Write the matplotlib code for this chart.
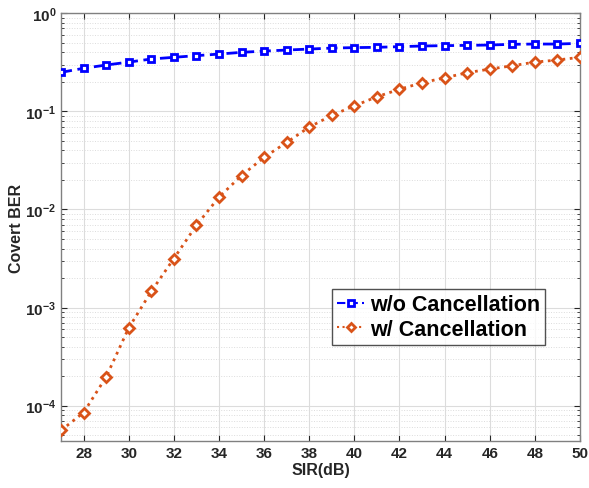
import numpy as np
import matplotlib
matplotlib.use('Agg')
import matplotlib.pyplot as plt
from matplotlib.ticker import LogLocator, NullFormatter

plt.rcParams['font.family'] = ['Liberation Sans', 'DejaVu Sans']
plt.rcParams['font.weight'] = 'bold'

sir = np.arange(27, 51)
ber_wo = [0.250, 0.275, 0.297, 0.318, 0.342, 0.356, 0.370, 0.384, 0.400, 0.412,
          0.422, 0.432, 0.442, 0.447, 0.450, 0.457, 0.464, 0.468, 0.471, 0.475,
          0.483, 0.486, 0.486, 0.494]
ber_w = [5.6e-5, 8.5e-5, 1.96e-4, 6.2e-4, 1.46e-3, 3.16e-3, 6.9e-3, 0.01335,
         0.0222, 0.034, 0.0483, 0.0692, 0.091, 0.114, 0.141, 0.168, 0.196,
         0.220, 0.248, 0.270, 0.292, 0.318, 0.334, 0.356]
xticks = list(range(28, 51, 2))

fig = plt.figure(figsize=(5.89, 4.89), dpi=100)
ax = fig.add_axes([61/589, 1-441.7/489, (580-61)/589, (441.7-14.3)/489])

blue = '#0000FF'
orange = '#D95319'
ax.semilogy(sir, ber_wo, linestyle=(0, (4, 2)), color=blue, lw=2, marker='s', ms=5,
            mfc='white', mec=blue, mew=2, label='w/o Cancellation', zorder=3)
ax.semilogy(sir, ber_w, linestyle=':', color=orange, lw=2, marker='D', ms=5,
            mfc='white', mec=orange, mew=2, label='w/ Cancellation', zorder=3)

ax.set_xlim(27, 50)
ax.set_ylim(10**-4.357, 1)
ax.set_xticks(xticks)
ax.yaxis.set_major_locator(LogLocator(base=10, numticks=10))
ax.yaxis.set_minor_locator(LogLocator(base=10, subs=np.arange(2, 10), numticks=20))
ax.yaxis.set_minor_formatter(NullFormatter())

ax.grid(True, which='major', color='#dcdcdc', lw=0.8, linestyle='-')
ax.grid(True, which='minor', axis='y', color='#dcdcdc', lw=0.7, linestyle=':')
ax.set_axisbelow(True)

ax.tick_params(which='both', direction='in', top=True, right=True, colors='#262626',
               labelsize=11)
ax.tick_params(which='major', length=4)
ax.tick_params(which='minor', length=2)
for sp in ax.spines.values():
    sp.set_color('#808080')
    sp.set_linewidth(1.0)

ax.set_xlabel('SIR(dB)', fontsize=11.5, fontweight='bold', color='#262626', labelpad=2)
ax.set_ylabel('Covert BER', fontsize=11.5, fontweight='bold', color='#262626', labelpad=1)

leg = ax.legend(loc='upper left', bbox_to_anchor=((332-61)/519, 1-(290-14.3)/427.4),
                frameon=True, fancybox=False, edgecolor='#262626',
                handlelength=1.25, handletextpad=0.25, borderpad=0.25, labelspacing=0.15,
                borderaxespad=0, prop={'weight': 'bold', 'size': 15.5})
leg.get_frame().set_linewidth(1.0)
for h in leg.get_lines():
    h.set_markersize(4)
    h.set_linewidth(1.5)

fig.savefig('out.png', dpi=100)
